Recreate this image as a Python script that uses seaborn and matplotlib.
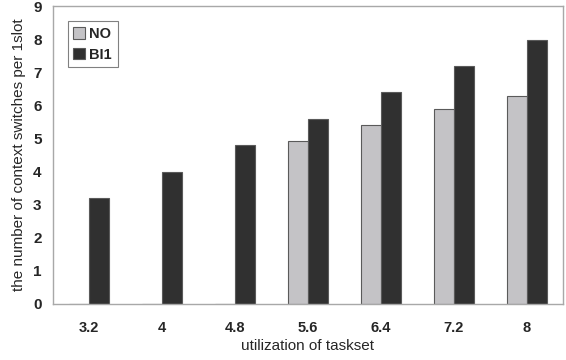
import matplotlib
matplotlib.use("Agg")
import matplotlib.pyplot as plt
import seaborn as sns
import pandas as pd
from matplotlib.ticker import FixedLocator

utilization = ["3.2", "4", "4.8", "5.6", "6.4", "7.2", "8"]
no_values = [0, 0, 0, 4.93, 5.4, 5.9, 6.3]
bi1_values = [3.2, 4.0, 4.8, 5.6, 6.4, 7.2, 8.0]
series = ["NO", "BI1"]
colors = ["#c4c3c6", "#303030"]

df = pd.DataFrame({
    "utilization": utilization * 2,
    "value": no_values + bi1_values,
    "method": [series[0]] * len(utilization) + [series[1]] * len(utilization),
})

sns.set_style("white")
plt.rcParams["font.family"] = ["Liberation Sans", "DejaVu Sans"]

fig = plt.figure(figsize=(5.66, 3.6), dpi=100)
ax = fig.add_axes([0.093, 0.156, 0.902, 0.826])

sns.barplot(data=df, x="utilization", y="value", hue="method",
            order=utilization, hue_order=series, palette=colors,
            width=0.55, gap=0, edgecolor="#5a5a5a", linewidth=0.8,
            saturation=1, ax=ax)

ax.set_ylim(0, 9)
ax.set_xlim(-0.5, len(utilization) - 0.5)
ax.set_yticks(range(0, 10))
ax.tick_params(axis="y", direction="in", length=4, color="#909090",
               labelsize=11, pad=8)
ax.tick_params(axis="x", which="major", length=0, labelsize=10.5, pad=12)
ax.xaxis.set_minor_locator(FixedLocator([i + 0.5 for i in range(len(utilization) - 1)]))
ax.tick_params(axis="x", which="minor", direction="in", length=4, color="#909090")
for lbl in ax.get_xticklabels() + ax.get_yticklabels():
    lbl.set_fontweight("bold")

for side in ["left", "right", "top", "bottom"]:
    ax.spines[side].set_visible(True)
    ax.spines[side].set_color("#a8a8a8")
    ax.spines[side].set_linewidth(1.0)

ax.set_xlabel("utilization of taskset", fontsize=11, labelpad=3)
ax.set_ylabel("the number of context switches per 1slot", fontsize=11, labelpad=5)

leg = ax.legend(loc="upper left", bbox_to_anchor=(0.015, 0.975), frameon=True,
                fancybox=False, edgecolor="#606060", handlelength=0.8,
                handleheight=0.8, handletextpad=0.3, borderpad=0.4,
                labelspacing=0.45, prop={"weight": "bold", "size": 10.5})
leg.get_frame().set_linewidth(0.8)

fig.savefig("out.png", dpi=100)
